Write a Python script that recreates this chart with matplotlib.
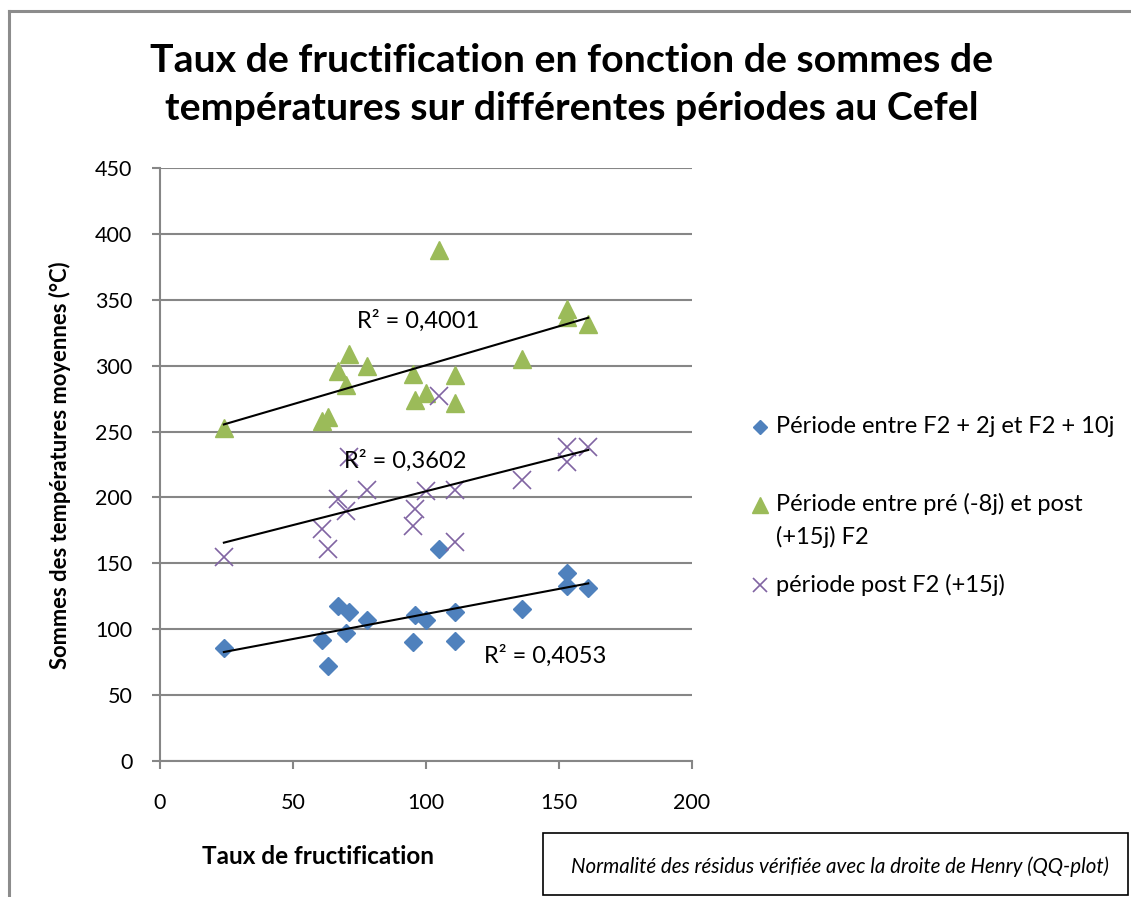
#!/usr/bin/env python3
# coding: utf-8

import numpy
import matplotlib
matplotlib.use('Agg')
from matplotlib import pyplot as plt
from matplotlib.lines import Line2D
from matplotlib.patches import Rectangle


TITLE = 'Taux de fructification en fonction de sommes de\ntempératures sur différentes périodes au Cefel'
XLABEL = 'Taux de fructification'
YLABEL = 'Sommes des températures moyennes (°C)'
NOTE = 'Normalité des résidus vérifiée avec la droite de Henry (QQ-plot)'

# taux de fructification (commun aux trois séries)
taux = [24, 61, 63, 67, 70, 71, 78, 95, 96, 100, 105, 111, 111, 136, 153, 153, 161]

periode_2_10 = [86, 92, 72, 118, 97, 113, 107, 90, 111, 107, 161, 113, 91, 115, 143, 133, 131]
periode_pre_post = [253, 258, 261, 296, 285, 309, 300, 294, 274, 279, 388, 293, 272, 305, 343, 337, 332]
periode_post = [155, 176, 161, 199, 190, 231, 206, 178, 191, 205, 277, 206, 166, 213, 238, 227, 238]

labels = ['Période entre F2 + 2j et F2 + 10j',
          'Période entre pré (-8j) et post\n(+15j) F2',
          'période post F2 (+15j)']
r2_labels = ['R² = 0,4053', 'R² = 0,4001', 'R² = 0,3602']
r2_pos = [(145, 80), (97, 334), (92, 228)]

XTICKS = [0, 50, 100, 150, 200]
YTICKS = [0, 50, 100, 150, 200, 250, 300, 350, 400, 450]

GRID = '#868686'
FONT = ['Lato', 'DejaVu Sans']

plt.rcParams['font.family'] = FONT


def main():
    fig = plt.figure(figsize=(11.31, 8.97), dpi=100)
    ax = fig.add_axes([0.1415, 0.1516, 0.4703, 0.6611])

    styles = [
        {'marker': 'D', 'color': '#4F81BD', 'markersize': 9.2, 'linestyle': ''},
        {'marker': '^', 'color': '#9BBB59', 'markersize': 13.5, 'linestyle': ''},
        {'marker': 'x', 'color': '#8064A2', 'markersize': 13, 'markeredgewidth': 1.2, 'linestyle': ''},
    ]
    series = [periode_2_10, periode_pre_post, periode_post]
    x = numpy.array(taux, dtype=float)

    for values, style, r2, pos in zip(series, styles, r2_labels, r2_pos):
        y = numpy.array(values, dtype=float)
        ax.plot(x, y, zorder=3, **style)
        slope, intercept = numpy.polyfit(x, y, 1)
        xs = numpy.array([x.min(), x.max()])
        ax.plot(xs, slope * xs + intercept, color='black', linewidth=1.5, zorder=4)
        ax.text(pos[0], pos[1], r2, fontsize=17, ha='center', va='center', zorder=5)

    ax.set_xlim(0, 200)
    ax.set_ylim(0, 450)
    ax.set_xticks(XTICKS)
    ax.set_yticks(YTICKS)
    ax.tick_params(axis='both', labelsize=15.5, direction='out', length=6,
                   width=1.5, color=GRID)
    ax.tick_params(axis='y', pad=14)
    ax.tick_params(axis='x', pad=17)
    ax.yaxis.grid(True, color=GRID, linewidth=1.5)
    ax.set_axisbelow(True)
    for side in ['top', 'right']:
        ax.spines[side].set_visible(False)
    for side in ['left', 'bottom']:
        ax.spines[side].set_color(GRID)
        ax.spines[side].set_linewidth(1.5)

    fig.text(0.5055, 0.9063, TITLE, fontsize=28.3, fontweight='bold',
             ha='center', va='center', linespacing=1.45)
    fig.text(0.0531, 0.4816, YLABEL, fontsize=15.8, fontweight='bold',
             rotation=90, ha='center', va='center')
    fig.text(0.2812, 0.0446, XLABEL, fontsize=17.5, fontweight='bold',
             ha='center', va='center')

    # légende à droite
    leg_y = [0.5240, 0.4370, 0.3478]
    leg_x = 0.6720
    leg_sizes = {'D': 7.5, '^': 11, 'x': 10.5}
    for style, label, ly in zip(styles, labels, leg_y):
        st = dict(style)
        st['markersize'] = leg_sizes[st['marker']]
        fig.add_artist(Line2D([leg_x], [ly], transform=fig.transFigure, **st))
        if '\n' in label:
            fig.text(leg_x + 0.014, ly + 0.0135, label, fontsize=17, ha='left', va='top',
                     linespacing=1.6)
        else:
            fig.text(leg_x + 0.014, ly, label, fontsize=17, ha='left', va='center')

    # cadre du graphique
    fig.add_artist(Line2D([0.0080, 0.0080], [0.0, 0.9877], transform=fig.transFigure,
                          color='#8C8C8C', linewidth=2.2))
    fig.add_artist(Line2D([0.0080, 1.0], [0.9877, 0.9877], transform=fig.transFigure,
                          color='#8C8C8C', linewidth=2.2))

    # encadré de note
    fig.add_artist(Rectangle((0.4801, 0.0022), 0.5170, 0.0691, transform=fig.transFigure,
                             facecolor='white', edgecolor='black', linewidth=1.2))
    fig.text(0.7427, 0.0334, NOTE, fontsize=14.8, style='italic', ha='center', va='center')

    fig.savefig('out.png', dpi=100)


if __name__ == '__main__':
    main()
